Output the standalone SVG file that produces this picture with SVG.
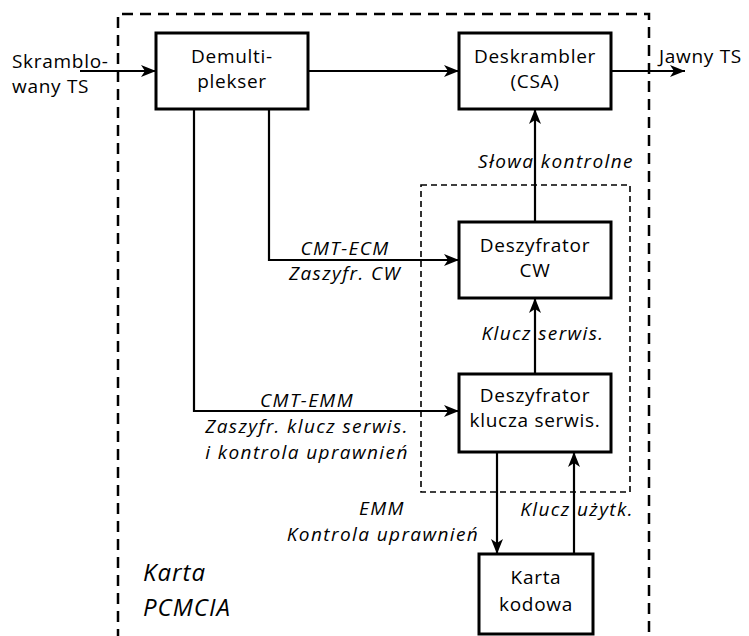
<svg xmlns="http://www.w3.org/2000/svg" width="749" height="636" viewBox="0 0 749 636">
<style>
.box{fill:#fff;stroke:#000;stroke-width:3}
.t{font-family:"Open Sans","DejaVu Sans",sans-serif;font-size:19px;letter-spacing:0.7px;fill:#000;text-anchor:middle}
.i{font-family:"Open Sans","DejaVu Sans",sans-serif;font-size:19px;letter-spacing:1.4px;font-style:italic;fill:#000;text-anchor:middle}
.c{fill:none;stroke:#000;stroke-width:2.2}
</style>
<defs>
<marker id="ah" viewBox="0 0 15 12" refX="15" refY="6" markerWidth="15" markerHeight="12" markerUnits="userSpaceOnUse" orient="auto">
<path d="M0,0 L15,6 L0,12 L4,6 z" fill="#000"/>
</marker>
</defs>
<rect width="749" height="636" fill="#fff"/>
<g id="frames">
<path d="M118,640 V14 H649 V640" fill="none" stroke="#000" stroke-width="2.5" stroke-dasharray="11,7"/>
<rect x="421" y="185" width="209" height="307" fill="none" stroke="#000" stroke-width="1.6" stroke-dasharray="6,4"/>
<text class="i" x="143" y="581" style="font-size:24px;letter-spacing:1px;text-anchor:start">Karta</text>
<text class="i" x="143" y="616" style="font-size:24px;letter-spacing:1px;text-anchor:start">PCMCIA</text>
</g>
<g id="connectors">
<line class="c" x1="80" y1="71" x2="156" y2="71" marker-end="url(#ah)"/>
<line class="c" x1="308" y1="71" x2="459" y2="71" marker-end="url(#ah)"/>
<line class="c" x1="611" y1="71" x2="685" y2="71" marker-end="url(#ah)"/>
<line class="c" x1="535" y1="222" x2="535" y2="109" marker-end="url(#ah)"/>
<polyline class="c" points="269,109 269,260 459,260" marker-end="url(#ah)"/>
<polyline class="c" points="194,109 194,411 459,411" marker-end="url(#ah)"/>
<line class="c" x1="535" y1="374" x2="535" y2="298" marker-end="url(#ah)"/>
<line class="c" x1="497" y1="452" x2="497" y2="554" marker-end="url(#ah)"/>
<line class="c" x1="574" y1="554" x2="574" y2="452" marker-end="url(#ah)"/>
<text class="t" x="12" y="68" style="text-anchor:start">Skramblo-</text>
<text class="t" x="12" y="93" style="text-anchor:start">wany TS</text>
<text class="t" x="659" y="63" style="text-anchor:start">Jawny TS</text>
<text class="i" x="556" y="168">Słowa kontrolne</text>
<text class="i" x="345" y="255">CMT-ECM</text>
<text class="i" x="345" y="280">Zaszyfr. CW</text>
<text class="i" x="543" y="340">Klucz serwis.</text>
<text class="i" x="307" y="407">CMT-EMM</text>
<text class="i" x="307" y="433">Zaszyfr. klucz serwis.</text>
<text class="i" x="307" y="459">i kontrola uprawnień</text>
<text class="i" x="382" y="515">EMM</text>
<text class="i" x="383" y="541">Kontrola uprawnień</text>
<text class="i" x="577" y="516">Klucz użytk.</text>
</g>
<g id="demux">
<rect class="box" x="156" y="33" width="152" height="76"/>
<text class="t" x="232" y="63">Demulti-</text>
<text class="t" x="232" y="88">plekser</text>
</g>
<g id="deskrambler">
<rect class="box" x="459" y="33" width="152" height="76"/>
<text class="t" x="535" y="63">Deskrambler</text>
<text class="t" x="535" y="88">(CSA)</text>
</g>
<g id="deszyfrator-cw">
<rect class="box" x="459" y="222" width="152" height="76"/>
<text class="t" x="535" y="252">Deszyfrator</text>
<text class="t" x="535" y="277">CW</text>
</g>
<g id="deszyfrator-klucza">
<rect class="box" x="459" y="374" width="152" height="78"/>
<text class="t" x="535" y="402">Deszyfrator</text>
<text class="t" x="535" y="427">klucza serwis.</text>
</g>
<g id="karta-kodowa">
<rect class="box" x="479" y="554" width="114" height="80"/>
<text class="t" x="536" y="584">Karta</text>
<text class="t" x="536" y="611">kodowa</text>
</g>
</svg>
